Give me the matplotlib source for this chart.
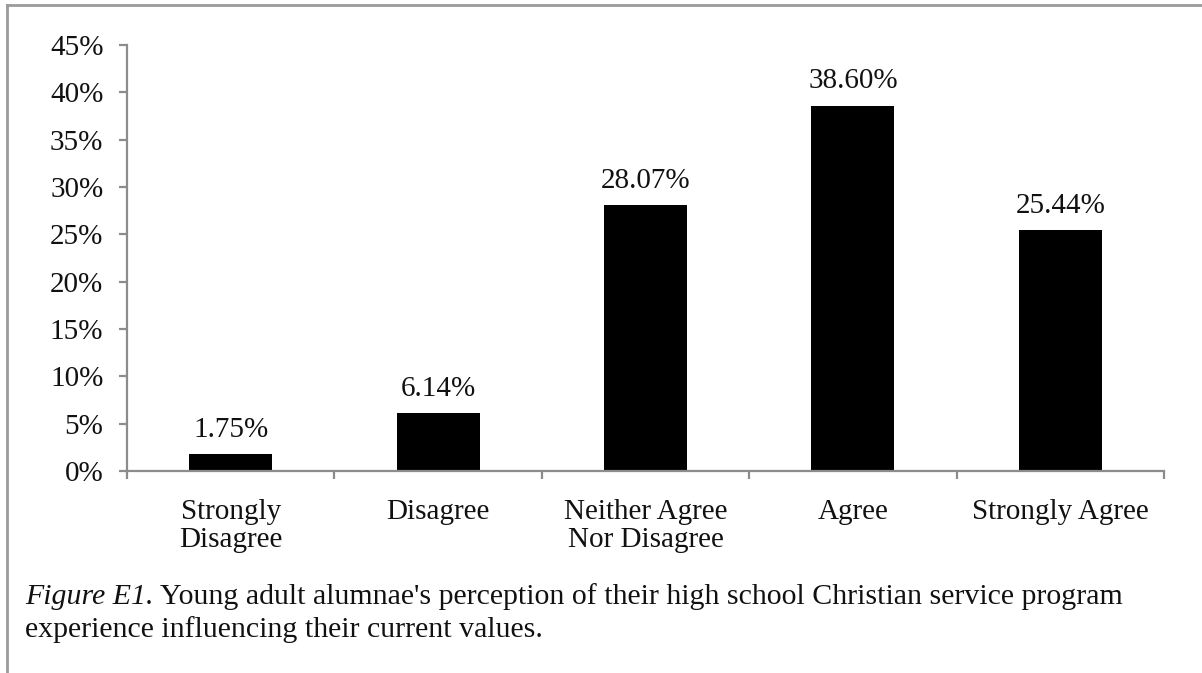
import matplotlib
matplotlib.use("Agg")
import matplotlib.pyplot as plt
from matplotlib.lines import Line2D
import numpy as np

categories = ["Strongly\nDisagree", "Disagree", "Neither Agree\nNor Disagree", "Agree", "Strongly Agree"]
values = [1.75, 6.14, 28.07, 38.60, 25.44]
value_labels = ["1.75%", "6.14%", "28.07%", "38.60%", "25.44%"]
yticks = [0, 5, 10, 15, 20, 25, 30, 35, 40, 45]
ytick_labels = ["0%", "5%", "10%", "15%", "20%", "25%", "30%", "35%", "40%", "45%"]

plt.rcParams['font.family'] = ['Liberation Serif', 'DejaVu Serif']
FS = 21
CFS = 21.5

W, H = 1202, 673
fig = plt.figure(figsize=(W/100, H/100), dpi=100)
ax = fig.add_axes([127/W, 1-471/H, (1164-127)/W, (471-45)/H])

x = np.arange(len(categories))
ax.bar(x, values, width=0.4, color='black')
ax.set_xlim(-0.5, len(categories)-0.5)
ax.set_ylim(0, 45)

for xi, v, lab in zip(x, values, value_labels):
    ax.annotate(lab, (xi, v), xytext=(0, 8), textcoords='offset points',
                ha='center', va='bottom', fontsize=FS, color='#111111')

axis_color = '#8c8c8c'
for s in ['top', 'right']:
    ax.spines[s].set_visible(False)
for s in ['left', 'bottom']:
    ax.spines[s].set_color(axis_color)
    ax.spines[s].set_linewidth(1.6)

ax.set_yticks(yticks)
ax.set_yticklabels(ytick_labels, fontsize=FS, color='#111111')
ax.tick_params(axis='y', direction='out', length=6, width=1.6, color=axis_color, pad=11)

ax.set_xticks(x)
ax.set_xticklabels(categories, fontsize=FS, color='#111111', linespacing=1.1)
ax.tick_params(axis='x', which='major', length=0, pad=20)
ax.set_xticks(np.arange(-0.5, len(categories), 1.0), minor=True)
ax.tick_params(axis='x', which='minor', direction='out', length=6, width=1.6, color=axis_color)

# figure frame lines (top and left)
fig.add_artist(Line2D([7/W, 1], [1-5/H, 1-5/H], transform=fig.transFigure, color='#9a9a9a', lw=2))
fig.add_artist(Line2D([7/W, 7/W], [1-5/H, 0], transform=fig.transFigure, color='#9a9a9a', lw=2))

t1 = fig.text(25/W, 1-597/H, "Figure E1.", fontsize=CFS, style='italic', va='center', ha='left', color='#111111')
fig.canvas.draw()
bb = t1.get_window_extent()
fig.text(bb.x1/W + 6/W, 1-597/H,
         "Young adult alumnae's perception of their high school Christian service program",
         fontsize=CFS, va='center', ha='left', color='#111111')
fig.text(25/W, 1-630/H, "experience influencing their current values.",
         fontsize=CFS, va='center', ha='left', color='#111111')

fig.savefig("out.png", dpi=100)
